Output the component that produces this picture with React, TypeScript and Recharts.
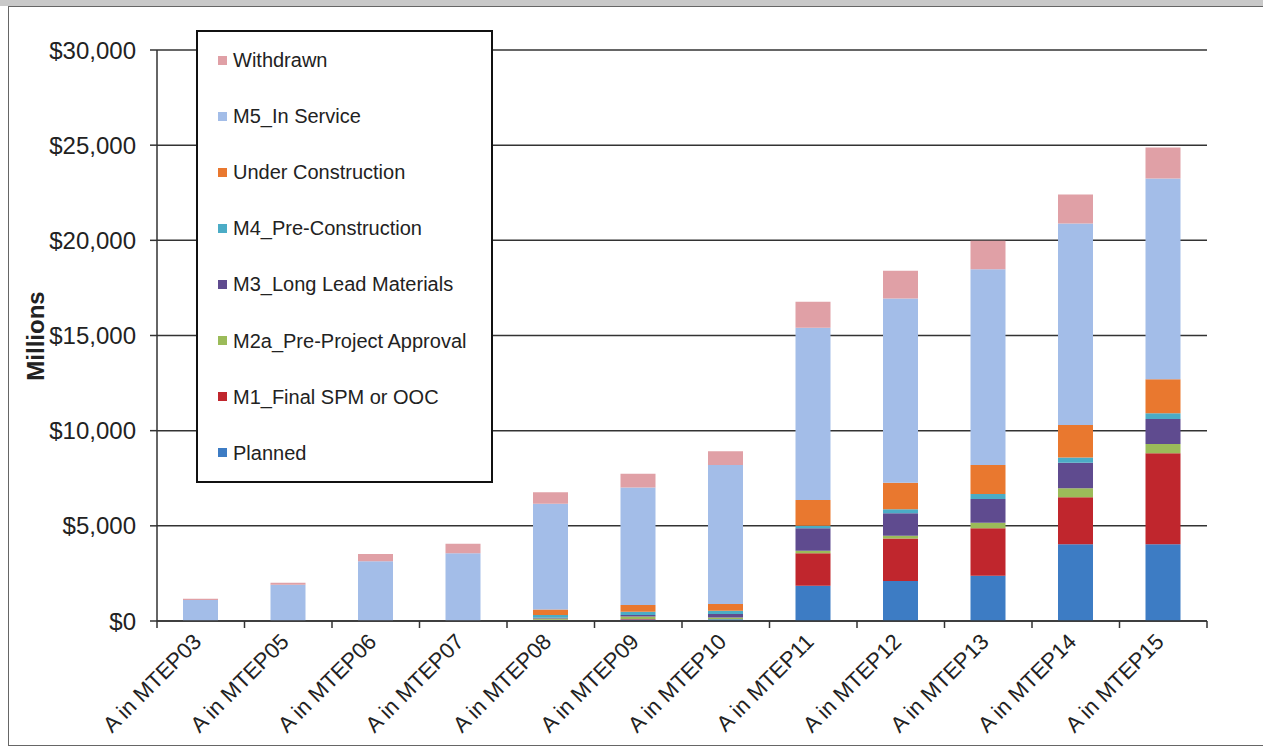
import { BarChart, Bar, XAxis, YAxis, CartesianGrid, Legend } from "recharts";

const categories = [
  "A in MTEP03", "A in MTEP05", "A in MTEP06", "A in MTEP07", "A in MTEP08", "A in MTEP09",
  "A in MTEP10", "A in MTEP11", "A in MTEP12", "A in MTEP13", "A in MTEP14", "A in MTEP15",
];

// millions of dollars
const planned = [0, 0, 0, 0, 40, 80, 90, 1855, 2100, 2380, 4030, 4030];
const m1Final = [0, 0, 0, 0, 30, 30, 0, 1700, 2240, 2490, 2470, 4780];
const m2aPreProject = [0, 0, 0, 0, 60, 130, 100, 140, 140, 295, 470, 490];
const m3LongLead = [0, 0, 0, 0, 40, 80, 180, 1175, 1175, 1245, 1345, 1310];
const m4PreConstruction = [0, 0, 0, 0, 140, 170, 170, 140, 210, 260, 280, 300];
const underConstruction = [0, 0, 0, 0, 300, 350, 350, 1350, 1400, 1525, 1700, 1785];
const m5InService = [1100, 1900, 3140, 3560, 5550, 6180, 7300, 9050, 9685, 10280, 10590, 10555];
const withdrawn = [70, 110, 380, 500, 610, 715, 735, 1365, 1450, 1500, 1525, 1630];

const yTicks = [0, 5000, 10000, 15000, 20000, 25000, 30000];

const series = [
  { key: "planned", name: "Planned", values: planned, color: "#3d7cc4" },
  { key: "m1", name: "M1_Final SPM or OOC", values: m1Final, color: "#c0262d" },
  { key: "m2a", name: "M2a_Pre-Project Approval", values: m2aPreProject, color: "#9bbb59" },
  { key: "m3", name: "M3_Long Lead Materials", values: m3LongLead, color: "#5f4b8f" },
  { key: "m4", name: "M4_Pre-Construction", values: m4PreConstruction, color: "#4bacc6" },
  { key: "uc", name: "Under Construction", values: underConstruction, color: "#e9782f" },
  { key: "m5", name: "M5_In Service", values: m5InService, color: "#a3bde8" },
  { key: "wd", name: "Withdrawn", values: withdrawn, color: "#e0a0a6" },
];

const data = categories.map((cat, i) => {
  const row: Record<string, string | number> = { cat };
  series.forEach((s) => (row[s.key] = s.values[i]));
  return row;
});

const FONT = "Arial, 'Liberation Sans', sans-serif";
const BAND = (1207 - 157) / categories.length;

function fmt(v: number) {
  return "$" + new Intl.NumberFormat("en-US").format(v);
}

function XTick(props: any) {
  const { x, y, payload, index } = props;
  const last = index === categories.length - 1;
  const tx = x + 2;
  const ty = y + 22;
  return (
    <g>
      <line x1={x - BAND / 2} x2={x - BAND / 2} y1={y} y2={y + 7} stroke="#333" strokeWidth={1.5} />
      {last && <line x1={x + BAND / 2} x2={x + BAND / 2} y1={y} y2={y + 7} stroke="#333" strokeWidth={1.5} />}
      <text x={tx} y={ty} transform={`rotate(-45 ${tx} ${ty})`} textAnchor="end" fontSize={22} fontFamily={FONT} fill="#222">
        {payload.value}
      </text>
    </g>
  );
}

// legend lists the stack top-down, so walk the series in reverse
function LegendBox(props: any) {
  const payload: any[] = props.payload || [];
  const items = [...series].reverse().map((s) => {
    const p = payload.find((it) => it.value === s.name);
    return { value: s.name, color: p ? p.color : s.color };
  });
  return (
    <div style={{ fontFamily: FONT }}>
      {items.map((it) => (
        <div key={it.value} style={{ height: 56.1, display: "flex", alignItems: "center", paddingLeft: 20 }}>
          <span style={{ width: 9, height: 9, background: it.color, marginRight: 6, display: "inline-block" }} />
          <span style={{ fontSize: 20, color: "#222", lineHeight: 1 }}>{it.value}</span>
        </div>
      ))}
    </div>
  );
}

export default function App() {
  return (
    <div style={{ position: "absolute", left: 0, top: 0, width: 1263, height: 752, background: "#fff", overflow: "hidden" }}>
      <div style={{ position: "absolute", left: 0, top: 0, width: 1263, height: 6, background: "#c9c9c9" }} />
      <div style={{ position: "absolute", left: 8, top: 6, width: 1270, height: 738, border: "1px solid #666" }} />
      <div style={{ position: "absolute", left: 0, top: 0 }}>
        <BarChart width={1263} height={752} data={data} margin={{ top: 50, right: 56, bottom: 0, left: 0 }}>
          <CartesianGrid vertical={false} stroke="#333" strokeWidth={1.5} />
          <XAxis
            dataKey="cat"
            height={131}
            interval={0}
            tickLine={false}
            tickSize={0}
            tickMargin={0}
            axisLine={{ stroke: "#333", strokeWidth: 1.5 }}
            tick={<XTick />}
          />
          <YAxis
            width={157}
            domain={[0, 30000]}
            ticks={yTicks}
            tickFormatter={fmt}
            tickSize={7}
            tickMargin={14}
            tickLine={{ stroke: "#333", strokeWidth: 1.5 }}
            axisLine={{ stroke: "#333", strokeWidth: 1.5 }}
            tick={{ fontSize: 24, fill: "#222", fontFamily: FONT }}
            label={{
              content: () => (
                <text
                  x={44}
                  y={336}
                  transform="rotate(-90 44 336)"
                  textAnchor="middle"
                  fontSize={24}
                  fontWeight="bold"
                  fontFamily={FONT}
                  fill="#222"
                >
                  Millions
                </text>
              ),
            }}
          />
          <Legend
            layout="vertical"
            align="center"
            verticalAlign="middle"
            content={<LegendBox />}
            wrapperStyle={{
              left: 196,
              top: 30,
              width: 297,
              height: 453,
              boxSizing: "border-box",
              border: "2px solid #111",
              background: "#fff",
            }}
          />
          {series.map((s) => (
            <Bar key={s.key} dataKey={s.key} name={s.name} stackId="a" fill={s.color} barSize={35} isAnimationActive={false} />
          ))}
        </BarChart>
      </div>
    </div>
  );
}
